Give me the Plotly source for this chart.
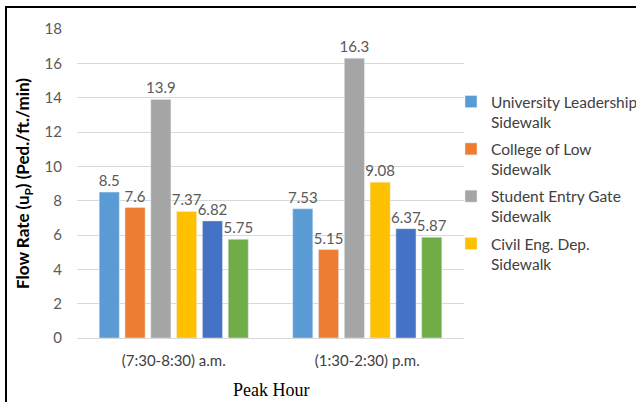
import plotly.graph_objects as go

categories = ["(7:30-8:30) a.m.", "(1:30-2:30) p.m."]
series_names = [
    "University Leadership<br>Sidewalk",
    "College of Low<br>Sidewalk",
    "Student Entry Gate<br>Sidewalk",
    "Civil Eng. Dep.<br>Sidewalk",
    "Sidewalk 5",
    "Sidewalk 6",
]
series_values = [
    [8.5, 7.53],
    [7.6, 5.15],
    [13.9, 16.3],
    [7.37, 9.08],
    [6.82, 6.37],
    [5.75, 5.87],
]
series_labels = [
    ["8.5", "7.53"],
    ["7.6", "5.15"],
    ["13.9", "16.3"],
    ["7.37", "9.08"],
    ["6.82", "6.37"],
    ["5.75", "5.87"],
]
colors = ["#5B9BD5", "#ED7D31", "#A5A5A5", "#FFC000", "#4472C4", "#70AD47"]
show_in_legend = [True, True, True, True, False, False]

fig = go.Figure()
for i, (name, vals, labs, col, sl) in enumerate(zip(series_names, series_values, series_labels, colors, show_in_legend)):
    fig.add_trace(go.Bar(
        x=categories, y=vals, name=name, marker_color=col,
        text=labs, textposition="outside", cliponaxis=False, constraintext="none",
        textfont=dict(family="Lato, Open Sans, sans-serif", size=15, color="#595959"),
        showlegend=sl, legendgroup=f"g{i}",
    ))

L, R, T, B = 77, 464, 29, 338
W, H = 636, 402

fig.update_layout(
    width=W, height=H,
    margin=dict(l=L, r=W - R, t=T, b=H - B, pad=0, autoexpand=False),
    paper_bgcolor="white", plot_bgcolor="white",
    barmode="group", bargap=0.2, bargroupgap=0.22,
    font=dict(family="Lato, Open Sans, sans-serif", color="#595959"),
    legend=dict(
        x=(451 - L) / (R - L), y=(B - 85) / (B - T), xanchor="left", yanchor="top",
        font=dict(family="Lato, Open Sans, sans-serif", size=15.5, color="#404040"),
        valign="top", itemwidth=30, bgcolor="rgba(0,0,0,0)",
        tracegroupgap=4,
    ),
    xaxis=dict(
        showgrid=False, showline=False, ticks="",
        tickfont=dict(size=15, color="#404040"),
        ticklabelstandoff=12,
    ),
    yaxis=dict(
        range=[0, 18], dtick=2, showgrid=True, gridcolor="#D9D9D9", gridwidth=1,
        zeroline=True, zerolinecolor="#D9D9D9", zerolinewidth=1,
        tickfont=dict(size=15, color="#595959"),
        ticklabelstandoff=14,
        title=dict(
            text="<b>Flow Rate (u<sub>P</sub>) (Ped./ft./min)</b>",
            font=dict(size=17, color="#000000"),
            standoff=10,
        ),
    ),
    shapes=[
        dict(type="rect", xref="paper", yref="paper",
             x0=(6 - L) / (R - L), x1=(640 - L) / (R - L),
             y0=(B - 420) / (B - T), y1=(B - 7) / (B - T),
             line=dict(color="#000000", width=2), fillcolor="rgba(0,0,0,0)", layer="above"),
    ],
    annotations=[
        dict(text="Peak Hour", xref="paper", yref="paper", x=0.5, y=(B - 390) / (B - T),
             xanchor="center", yanchor="middle", showarrow=False,
             font=dict(family="Liberation Serif, Times New Roman, serif", size=18, color="#000000")),
    ],
)

fig.write_html("out.html", config={"displayModeBar": False},
               post_script="document.body.style.margin='0';document.body.style.overflow='hidden';")
